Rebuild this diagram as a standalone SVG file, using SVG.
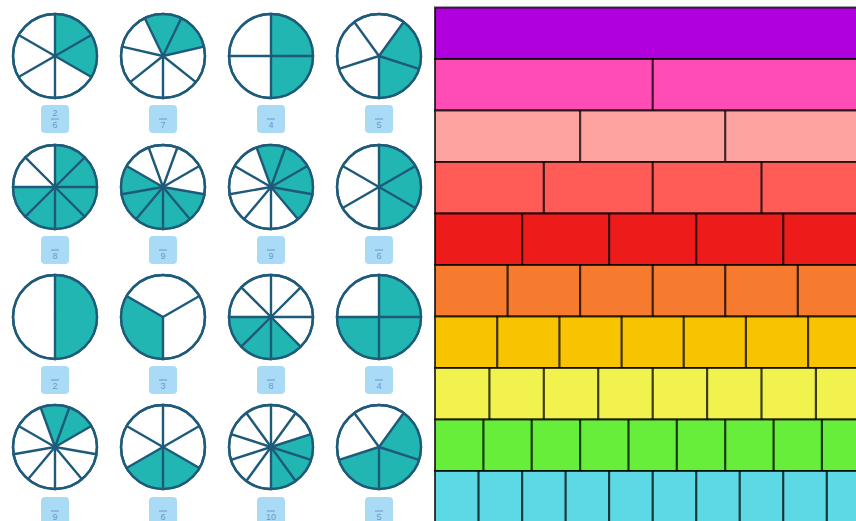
<svg xmlns="http://www.w3.org/2000/svg" xmlns:xlink="http://www.w3.org/1999/xlink" width="856" height="521" viewBox="0 0 856 521">
<style>
.rim{fill:#fff;stroke:#1e5b7a;stroke-width:2.4}
.sl{fill:#21b6b1}
.ln{stroke:#1e5b7a;stroke-width:2.4;stroke-linecap:round}
.lab{fill:#a9dbf7}
.lt{font-family:"Liberation Sans",Arial,sans-serif;font-size:9px;fill:#6a98c4;text-anchor:middle}
.bar{stroke:#000;stroke-opacity:0.75;stroke-width:2}
.dv{stroke:#000;stroke-opacity:0.75;stroke-width:2.2}
</style>
<defs>
<path id="w2" class="sl" d="M0,0 L42,0 A42,42 0 0 0 -42,0 Z"/>
<path id="w3" class="sl" d="M0,0 L42,0 A42,42 0 0 0 -21,-36.37 Z"/>
<path id="w4" class="sl" d="M0,0 L42,0 A42,42 0 0 0 0,-42 Z"/>
<path id="w5" class="sl" d="M0,0 L42,0 A42,42 0 0 0 12.98,-39.94 Z"/>
<path id="w6" class="sl" d="M0,0 L42,0 A42,42 0 0 0 21,-36.37 Z"/>
<path id="w7" class="sl" d="M0,0 L42,0 A42,42 0 0 0 26.19,-32.84 Z"/>
<path id="w8" class="sl" d="M0,0 L42,0 A42,42 0 0 0 29.7,-29.7 Z"/>
<path id="w9" class="sl" d="M0,0 L42,0 A42,42 0 0 0 32.17,-27 Z"/>
<path id="w10" class="sl" d="M0,0 L42,0 A42,42 0 0 0 33.98,-24.69 Z"/>
<line id="r" class="ln" x1="0" y1="0" x2="42" y2="0"/>
</defs>
<rect width="856" height="521" fill="#fff"/>

<!-- Row 1 -->
<g id="pie1" transform="translate(55,56)">
<circle class="rim" r="42"/>
<use xlink:href="#w6" transform="rotate(-30)"/><use xlink:href="#w6" transform="rotate(30)"/>
<use xlink:href="#r" transform="rotate(-90)"/><use xlink:href="#r" transform="rotate(-30)"/><use xlink:href="#r" transform="rotate(30)"/><use xlink:href="#r" transform="rotate(90)"/><use xlink:href="#r" transform="rotate(150)"/><use xlink:href="#r" transform="rotate(-150)"/>
<circle r="42" fill="none" stroke="#1e5b7a" stroke-width="2.4"/>
<rect class="lab" x="-14" y="49" width="28" height="28" rx="4"/>
<text class="lt" x="0" y="60">2</text><line x1="-4" y1="63" x2="4" y2="63" stroke="#6a98c4" stroke-width="1"/><text class="lt" x="0" y="72">6</text>
</g>
<g id="pie2" transform="translate(163,56)">
<circle class="rim" r="42"/>
<use xlink:href="#w7" transform="rotate(-12.86)"/><use xlink:href="#w7" transform="rotate(-64.29)"/>
<use xlink:href="#r" transform="rotate(90)"/><use xlink:href="#r" transform="rotate(38.57)"/><use xlink:href="#r" transform="rotate(-12.86)"/><use xlink:href="#r" transform="rotate(-64.29)"/><use xlink:href="#r" transform="rotate(-115.71)"/><use xlink:href="#r" transform="rotate(-167.14)"/><use xlink:href="#r" transform="rotate(141.43)"/>
<circle r="42" fill="none" stroke="#1e5b7a" stroke-width="2.4"/>
<rect class="lab" x="-14" y="49" width="28" height="28" rx="4"/>
<line x1="-4" y1="63" x2="4" y2="63" stroke="#6a98c4" stroke-width="1"/><text class="lt" x="0" y="72">7</text>
</g>
<g id="pie3" transform="translate(271,56)">
<circle class="rim" r="42"/>
<use xlink:href="#w4" transform="rotate(0)"/><use xlink:href="#w4" transform="rotate(90)"/>
<use xlink:href="#r" transform="rotate(0)"/><use xlink:href="#r" transform="rotate(90)"/><use xlink:href="#r" transform="rotate(180)"/><use xlink:href="#r" transform="rotate(270)"/>
<circle r="42" fill="none" stroke="#1e5b7a" stroke-width="2.4"/>
<rect class="lab" x="-14" y="49" width="28" height="28" rx="4"/>
<line x1="-4" y1="63" x2="4" y2="63" stroke="#6a98c4" stroke-width="1"/><text class="lt" x="0" y="72">4</text>
</g>
<g id="pie4" transform="translate(379,56)">
<circle class="rim" r="42"/>
<use xlink:href="#w5" transform="rotate(90)"/><use xlink:href="#w5" transform="rotate(18)"/>
<use xlink:href="#r" transform="rotate(90)"/><use xlink:href="#r" transform="rotate(18)"/><use xlink:href="#r" transform="rotate(-54)"/><use xlink:href="#r" transform="rotate(-126)"/><use xlink:href="#r" transform="rotate(-198)"/>
<circle r="42" fill="none" stroke="#1e5b7a" stroke-width="2.4"/>
<rect class="lab" x="-14" y="49" width="28" height="28" rx="4"/>
<line x1="-4" y1="63" x2="4" y2="63" stroke="#6a98c4" stroke-width="1"/><text class="lt" x="0" y="72">5</text>
</g>

<!-- Row 2 -->
<g id="pie5" transform="translate(55,187)">
<circle class="rim" r="42"/>
<use xlink:href="#w8" transform="rotate(0)"/><use xlink:href="#w8" transform="rotate(-45)"/><use xlink:href="#w8" transform="rotate(-180)"/><use xlink:href="#w8" transform="rotate(-225)"/><use xlink:href="#w8" transform="rotate(-270)"/><use xlink:href="#w8" transform="rotate(-315)"/>
<use xlink:href="#r" transform="rotate(0)"/><use xlink:href="#r" transform="rotate(45)"/><use xlink:href="#r" transform="rotate(90)"/><use xlink:href="#r" transform="rotate(135)"/><use xlink:href="#r" transform="rotate(180)"/><use xlink:href="#r" transform="rotate(225)"/><use xlink:href="#r" transform="rotate(270)"/><use xlink:href="#r" transform="rotate(315)"/>
<circle r="42" fill="none" stroke="#1e5b7a" stroke-width="2.4"/>
<rect class="lab" x="-14" y="49" width="28" height="28" rx="4"/>
<line x1="-4" y1="63" x2="4" y2="63" stroke="#6a98c4" stroke-width="1"/><text class="lt" x="0" y="72">8</text>
</g>
<g id="pie6" transform="translate(163,187)">
<circle class="rim" r="42"/>
<use xlink:href="#w9" transform="rotate(-150)"/><use xlink:href="#w9" transform="rotate(-190)"/><use xlink:href="#w9" transform="rotate(-230)"/><use xlink:href="#w9" transform="rotate(90)"/><use xlink:href="#w9" transform="rotate(50)"/>
<use xlink:href="#r" transform="rotate(90)"/><use xlink:href="#r" transform="rotate(50)"/><use xlink:href="#r" transform="rotate(10)"/><use xlink:href="#r" transform="rotate(-30)"/><use xlink:href="#r" transform="rotate(-70)"/><use xlink:href="#r" transform="rotate(-110)"/><use xlink:href="#r" transform="rotate(-150)"/><use xlink:href="#r" transform="rotate(-190)"/><use xlink:href="#r" transform="rotate(-230)"/>
<circle r="42" fill="none" stroke="#1e5b7a" stroke-width="2.4"/>
<rect class="lab" x="-14" y="49" width="28" height="28" rx="4"/>
<line x1="-4" y1="63" x2="4" y2="63" stroke="#6a98c4" stroke-width="1"/><text class="lt" x="0" y="72">9</text>
</g>
<g id="pie7" transform="translate(271,187)">
<circle class="rim" r="42"/>
<use xlink:href="#w9" transform="rotate(50)"/><use xlink:href="#w9" transform="rotate(10)"/><use xlink:href="#w9" transform="rotate(-30)"/><use xlink:href="#w9" transform="rotate(-70)"/>
<use xlink:href="#r" transform="rotate(90)"/><use xlink:href="#r" transform="rotate(50)"/><use xlink:href="#r" transform="rotate(10)"/><use xlink:href="#r" transform="rotate(-30)"/><use xlink:href="#r" transform="rotate(-70)"/><use xlink:href="#r" transform="rotate(-110)"/><use xlink:href="#r" transform="rotate(-150)"/><use xlink:href="#r" transform="rotate(-190)"/><use xlink:href="#r" transform="rotate(-230)"/>
<circle r="42" fill="none" stroke="#1e5b7a" stroke-width="2.4"/>
<rect class="lab" x="-14" y="49" width="28" height="28" rx="4"/>
<line x1="-4" y1="63" x2="4" y2="63" stroke="#6a98c4" stroke-width="1"/><text class="lt" x="0" y="72">9</text>
</g>
<g id="pie8" transform="translate(379,187)">
<circle class="rim" r="42"/>
<use xlink:href="#w6" transform="rotate(90)"/><use xlink:href="#w6" transform="rotate(30)"/><use xlink:href="#w6" transform="rotate(-30)"/>
<use xlink:href="#r" transform="rotate(-90)"/><use xlink:href="#r" transform="rotate(-30)"/><use xlink:href="#r" transform="rotate(30)"/><use xlink:href="#r" transform="rotate(90)"/><use xlink:href="#r" transform="rotate(150)"/><use xlink:href="#r" transform="rotate(-150)"/>
<circle r="42" fill="none" stroke="#1e5b7a" stroke-width="2.4"/>
<rect class="lab" x="-14" y="49" width="28" height="28" rx="4"/>
<line x1="-4" y1="63" x2="4" y2="63" stroke="#6a98c4" stroke-width="1"/><text class="lt" x="0" y="72">6</text>
</g>

<!-- Row 3 -->
<g id="pie9" transform="translate(55,317)">
<circle class="rim" r="42"/>
<use xlink:href="#w2" transform="rotate(90)"/>
<use xlink:href="#r" transform="rotate(90)"/><use xlink:href="#r" transform="rotate(-90)"/>
<circle r="42" fill="none" stroke="#1e5b7a" stroke-width="2.4"/>
<rect class="lab" x="-14" y="49" width="28" height="28" rx="4"/>
<line x1="-4" y1="63" x2="4" y2="63" stroke="#6a98c4" stroke-width="1"/><text class="lt" x="0" y="72">2</text>
</g>
<g id="pie10" transform="translate(163,317)">
<circle class="rim" r="42"/>
<use xlink:href="#w3" transform="rotate(-150)"/>
<use xlink:href="#r" transform="rotate(90)"/><use xlink:href="#r" transform="rotate(-30)"/><use xlink:href="#r" transform="rotate(-150)"/>
<circle r="42" fill="none" stroke="#1e5b7a" stroke-width="2.4"/>
<rect class="lab" x="-14" y="49" width="28" height="28" rx="4"/>
<line x1="-4" y1="63" x2="4" y2="63" stroke="#6a98c4" stroke-width="1"/><text class="lt" x="0" y="72">3</text>
</g>
<g id="pie11" transform="translate(271,317)">
<circle class="rim" r="42"/>
<use xlink:href="#w8" transform="rotate(-180)"/><use xlink:href="#w8" transform="rotate(-225)"/><use xlink:href="#w8" transform="rotate(-270)"/>
<use xlink:href="#r" transform="rotate(0)"/><use xlink:href="#r" transform="rotate(45)"/><use xlink:href="#r" transform="rotate(90)"/><use xlink:href="#r" transform="rotate(135)"/><use xlink:href="#r" transform="rotate(180)"/><use xlink:href="#r" transform="rotate(225)"/><use xlink:href="#r" transform="rotate(270)"/><use xlink:href="#r" transform="rotate(315)"/>
<circle r="42" fill="none" stroke="#1e5b7a" stroke-width="2.4"/>
<rect class="lab" x="-14" y="49" width="28" height="28" rx="4"/>
<line x1="-4" y1="63" x2="4" y2="63" stroke="#6a98c4" stroke-width="1"/><text class="lt" x="0" y="72">8</text>
</g>
<g id="pie12" transform="translate(379,317)">
<circle class="rim" r="42"/>
<use xlink:href="#w4" transform="rotate(0)"/><use xlink:href="#w4" transform="rotate(90)"/><use xlink:href="#w4" transform="rotate(180)"/>
<use xlink:href="#r" transform="rotate(0)"/><use xlink:href="#r" transform="rotate(90)"/><use xlink:href="#r" transform="rotate(180)"/><use xlink:href="#r" transform="rotate(270)"/>
<circle r="42" fill="none" stroke="#1e5b7a" stroke-width="2.4"/>
<rect class="lab" x="-14" y="49" width="28" height="28" rx="4"/>
<line x1="-4" y1="63" x2="4" y2="63" stroke="#6a98c4" stroke-width="1"/><text class="lt" x="0" y="72">4</text>
</g>

<!-- Row 4 -->
<g id="pie13" transform="translate(55,447)">
<circle class="rim" r="42"/>
<use xlink:href="#w9" transform="rotate(-30)"/><use xlink:href="#w9" transform="rotate(-70)"/>
<use xlink:href="#r" transform="rotate(90)"/><use xlink:href="#r" transform="rotate(50)"/><use xlink:href="#r" transform="rotate(10)"/><use xlink:href="#r" transform="rotate(-30)"/><use xlink:href="#r" transform="rotate(-70)"/><use xlink:href="#r" transform="rotate(-110)"/><use xlink:href="#r" transform="rotate(-150)"/><use xlink:href="#r" transform="rotate(-190)"/><use xlink:href="#r" transform="rotate(-230)"/>
<circle r="42" fill="none" stroke="#1e5b7a" stroke-width="2.4"/>
<rect class="lab" x="-14" y="50" width="28" height="28" rx="4"/>
<line x1="-4" y1="64" x2="4" y2="64" stroke="#6a98c4" stroke-width="1"/><text class="lt" x="0" y="73">9</text>
</g>
<g id="pie14" transform="translate(163,447)">
<circle class="rim" r="42"/>
<use xlink:href="#w6" transform="rotate(150)"/><use xlink:href="#w6" transform="rotate(90)"/>
<use xlink:href="#r" transform="rotate(-90)"/><use xlink:href="#r" transform="rotate(-30)"/><use xlink:href="#r" transform="rotate(30)"/><use xlink:href="#r" transform="rotate(90)"/><use xlink:href="#r" transform="rotate(150)"/><use xlink:href="#r" transform="rotate(-150)"/>
<circle r="42" fill="none" stroke="#1e5b7a" stroke-width="2.4"/>
<rect class="lab" x="-14" y="50" width="28" height="28" rx="4"/>
<line x1="-4" y1="64" x2="4" y2="64" stroke="#6a98c4" stroke-width="1"/><text class="lt" x="0" y="73">6</text>
</g>
<g id="pie15" transform="translate(271,447)">
<circle class="rim" r="42"/>
<use xlink:href="#w10" transform="rotate(90)"/><use xlink:href="#w10" transform="rotate(54)"/><use xlink:href="#w10" transform="rotate(18)"/>
<use xlink:href="#r" transform="rotate(-90)"/><use xlink:href="#r" transform="rotate(-54)"/><use xlink:href="#r" transform="rotate(-18)"/><use xlink:href="#r" transform="rotate(18)"/><use xlink:href="#r" transform="rotate(54)"/><use xlink:href="#r" transform="rotate(90)"/><use xlink:href="#r" transform="rotate(126)"/><use xlink:href="#r" transform="rotate(162)"/><use xlink:href="#r" transform="rotate(-162)"/><use xlink:href="#r" transform="rotate(-126)"/>
<circle r="42" fill="none" stroke="#1e5b7a" stroke-width="2.4"/>
<rect class="lab" x="-14" y="50" width="28" height="28" rx="4"/>
<line x1="-4" y1="64" x2="4" y2="64" stroke="#6a98c4" stroke-width="1"/><text class="lt" x="0" y="73">10</text>
</g>
<g id="pie16" transform="translate(379,447)">
<circle class="rim" r="42"/>
<use xlink:href="#w5" transform="rotate(18)"/><use xlink:href="#w5" transform="rotate(90)"/><use xlink:href="#w5" transform="rotate(162)"/>
<use xlink:href="#r" transform="rotate(90)"/><use xlink:href="#r" transform="rotate(18)"/><use xlink:href="#r" transform="rotate(-54)"/><use xlink:href="#r" transform="rotate(-126)"/><use xlink:href="#r" transform="rotate(-198)"/>
<circle r="42" fill="none" stroke="#1e5b7a" stroke-width="2.4"/>
<rect class="lab" x="-14" y="50" width="28" height="28" rx="4"/>
<line x1="-4" y1="64" x2="4" y2="64" stroke="#6a98c4" stroke-width="1"/><text class="lt" x="0" y="73">5</text>
</g>

<!-- Fraction bars -->
<g id="bars">
<rect class="bar" x="435" y="7.5" width="440" height="51.5" fill="#b000de"/>
<rect class="bar" x="435" y="59" width="440" height="51.5" fill="#ff4db5"/>
<rect class="bar" x="435" y="110.5" width="440" height="51.5" fill="#ffa3a0"/>
<rect class="bar" x="435" y="162" width="440" height="51.5" fill="#ff5c57"/>
<rect class="bar" x="435" y="213.5" width="440" height="51.5" fill="#ee1b1b"/>
<rect class="bar" x="435" y="265" width="440" height="51.5" fill="#f77b2e"/>
<rect class="bar" x="435" y="316.5" width="440" height="51.5" fill="#f8c300"/>
<rect class="bar" x="435" y="368" width="440" height="51.5" fill="#f2f24e"/>
<rect class="bar" x="435" y="419.5" width="440" height="51.5" fill="#66ee3a"/>
<rect class="bar" x="435" y="471" width="440" height="55" fill="#5dd9e6"/>
<path class="dv" d="M652.7,59V110.5
M580.1,110.5V162M725.2,110.5V162
M543.8,162V213.5M652.7,162V213.5M761.5,162V213.5
M522.1,213.5V265M609.1,213.5V265M696.2,213.5V265M783.2,213.5V265
M507.6,265V316.5M580.1,265V316.5M652.7,265V316.5M725.2,265V316.5M797.8,265V316.5
M497.2,316.5V368M559.4,316.5V368M621.6,316.5V368M683.7,316.5V368M745.9,316.5V368M808.1,316.5V368
M489.4,368V419.5M543.8,368V419.5M598.2,368V419.5M652.7,368V419.5M707.1,368V419.5M761.5,368V419.5M815.9,368V419.5
M483.4,419.5V471M531.7,419.5V471M580.1,419.5V471M628.5,419.5V471M676.8,419.5V471M725.2,419.5V471M773.6,419.5V471M821.9,419.5V471
M478.5,471V521M522.1,471V521M565.6,471V521M609.1,471V521M652.7,471V521M696.2,471V521M739.7,471V521M783.2,471V521M826.8,471V521"/>
</g>
</svg>
